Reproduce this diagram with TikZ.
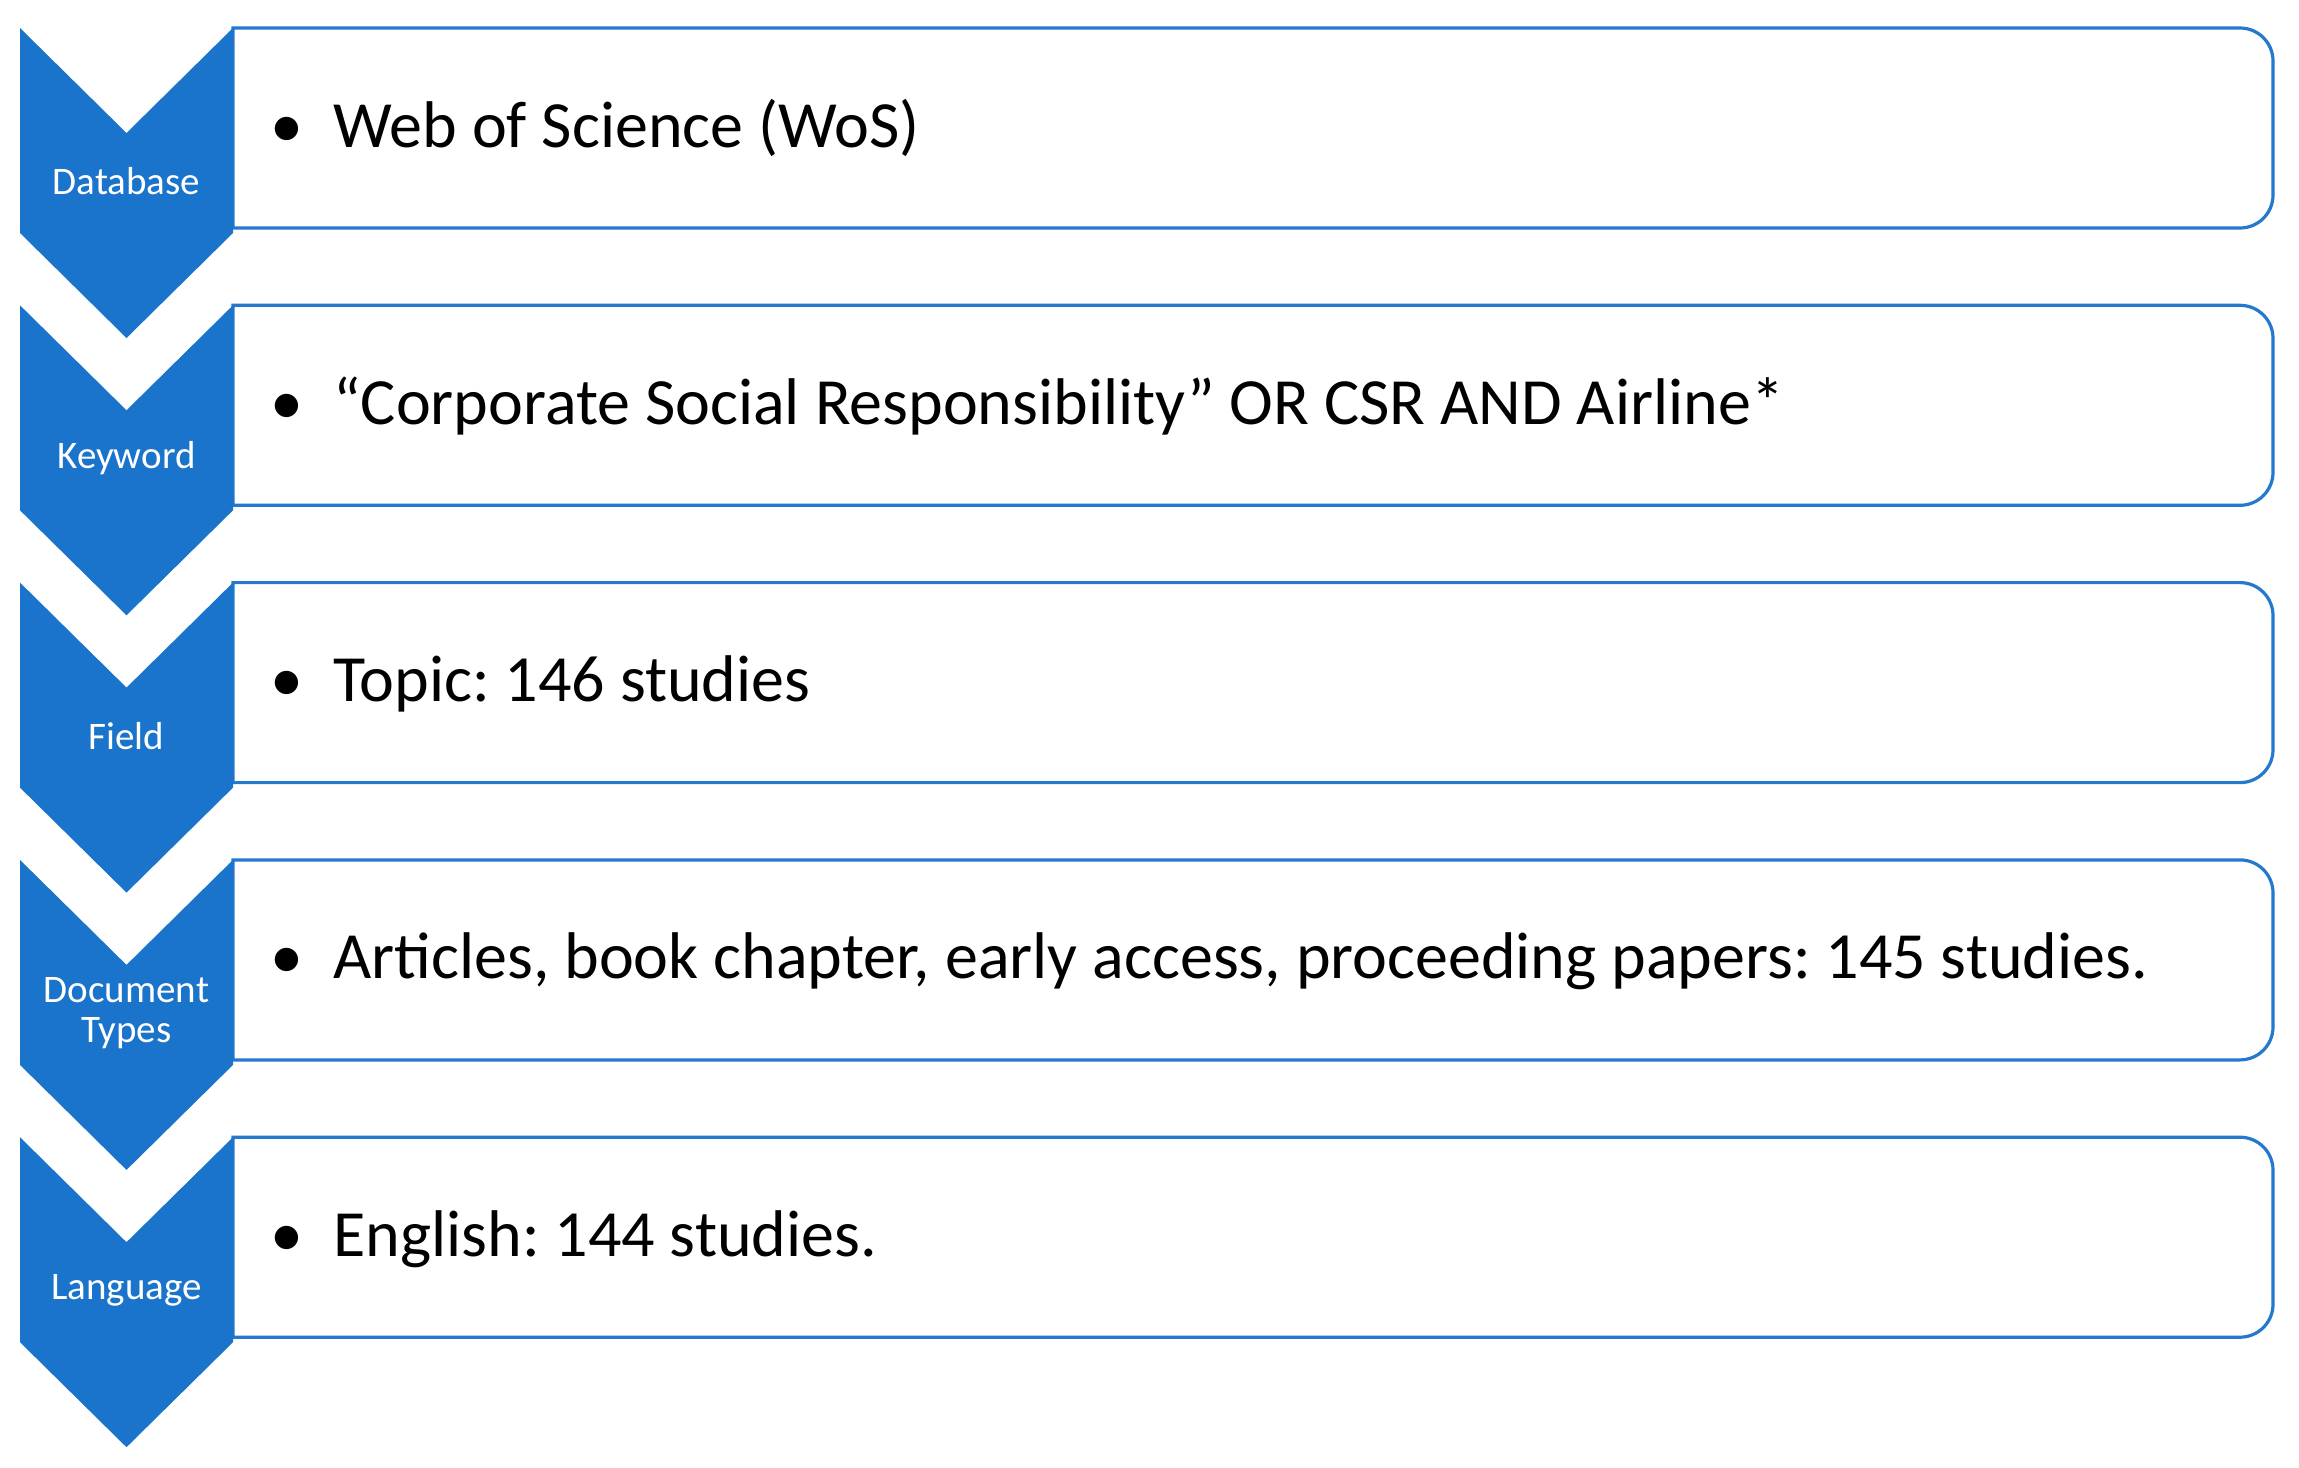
\documentclass[tikz,border=0pt]{standalone}
\usepackage{fontspec}
\setmainfont{Carlito}
\frenchspacing
\definecolor{chev}{RGB}{27,116,203}
\definecolor{boxline}{RGB}{36,120,206}
\tikzset{
  chevshape/.style={fill=chev, draw=none},
  boxframe/.style={draw=boxline, line width=1.6pt, fill=white},
  chevlabel/.style={text=white, font=\fontsize{19.5}{20}\selectfont, align=center, inner sep=0pt},
  bulletmark/.style={font=\fontsize{33}{38}\selectfont, anchor=base, inner sep=0pt},
  itemtext/.style={font=\fontsize{33}{38}\selectfont, anchor=base west, inner sep=0pt},
}
\begin{document}
\begin{tikzpicture}[x=0.5pt,y=-0.5pt]
\useasboundingbox (0,0) rectangle (2299,1468);
\fill[white] (0,0) rectangle (2299,1468);
\foreach \i/\lab/\txt in {
  0/{Database}/{Web of Science (WoS)},
  1/{Keyword}/{“Corporate Social Responsibility” OR CSR AND Airline*},
  2/{Field}/{Topic: 146 studies},
  3/{Document\\Types}/{Articles, book chapter, early access, proceeding papers: 145 studies.},
  4/{Language}/{English: 144 studies.}}{
  \pgfmathsetmacro{\yo}{28+277.3*\i}
  % box with rounded right corners
  \draw[boxframe] (233,\yo) -- (2240,\yo)
     arc[start angle=90,end angle=0,radius=16.5pt] -- (2273,\yo+167)
     arc[start angle=0,end angle=-90,radius=16.5pt] -- (233,\yo+200) -- cycle;
  % chevron
  \fill[chevshape] (20,\yo) -- (126.5,\yo+105) -- (233,\yo) -- (233,\yo+205)
     -- (126.5,\yo+310) -- (20,\yo+205) -- cycle;
  \node[chevlabel] (lab\i) at (126.5,\yo+153) {\lab};
  \node[bulletmark] (bul\i) at (287,\yo+119) {•};
  \node[itemtext] (txt\i) at (333,\yo+119) {\txt};
}
\end{tikzpicture}
\end{document}
